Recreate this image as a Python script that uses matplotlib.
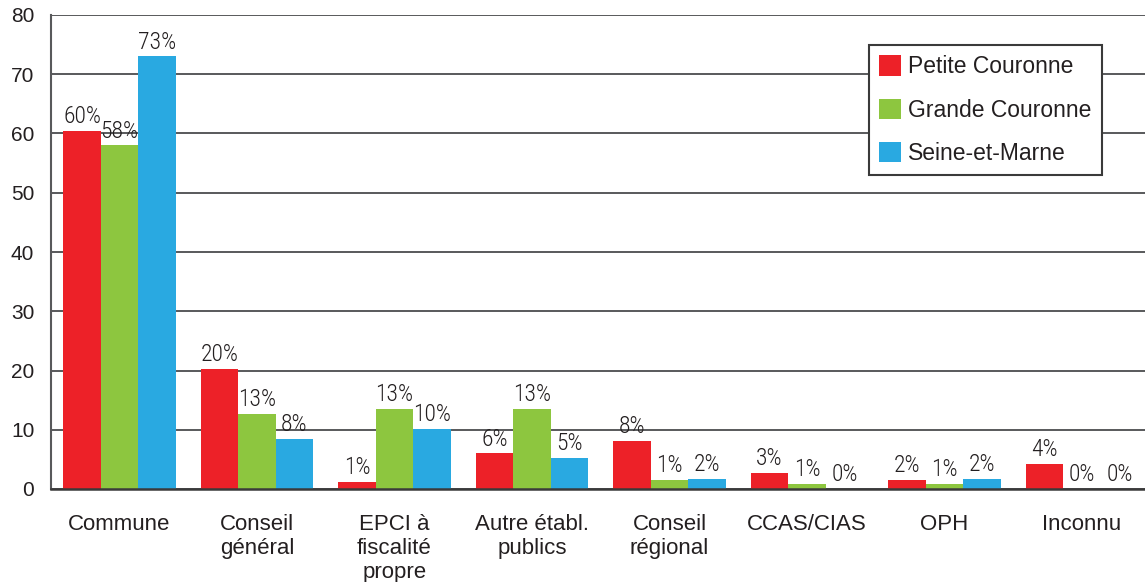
import matplotlib
matplotlib.use("Agg")
import matplotlib.pyplot as plt
import numpy as np
from matplotlib import font_manager

categories = ["Commune", "Conseil\ngénéral", "EPCI à\nfiscalité\npropre",
              "Autre établ.\npublics", "Conseil\nrégional", "CCAS/CIAS", "OPH", "Inconnu"]
series_names = ["Petite Couronne", "Grande Couronne", "Seine-et-Marne"]
petite = [60.5, 20.3, 1.2, 6.0, 8.1, 2.7, 1.5, 4.3]
grande = [58.0, 12.7, 13.5, 13.5, 1.5, 0.9, 0.9, 0.0]
seine = [73.0, 8.5, 10.2, 5.2, 1.7, 0.0, 1.7, 0.0]
petite_labels = ["60%", "20%", "1%", "6%", "8%", "3%", "2%", "4%"]
grande_labels = ["58%", "13%", "13%", "13%", "1%", "1%", "1%", "0%"]
seine_labels = ["73%", "8%", "10%", "5%", "2%", "0%", "2%", "0%"]
y_ticks = [0, 10, 20, 30, 40, 50, 60, 70, 80]

colors = ["#ED2128", "#8DC63F", "#29A9E1"]
text_color = "#231F20"

installed = {f.name for f in font_manager.fontManager.ttflist}
narrow = next((n for n in ["Roboto Condensed", "Archivo Narrow", "PT Sans Narrow"]
               if n in installed), "Liberation Sans")

plt.rcParams["font.family"] = ["Liberation Sans", "DejaVu Sans"]

fig = plt.figure(figsize=(11.45, 5.82), dpi=100)
ax = fig.add_axes([51 / 1145, 1 - 489 / 582, 1 - 51 / 1145, (489 - 15) / 582])

x = np.arange(len(categories))
w = 0.272
series = [petite, grande, seine]
labels = [petite_labels, grande_labels, seine_labels]
for k, (vals, labs) in enumerate(zip(series, labels)):
    bars = ax.bar(x + (k - 1) * w, vals, width=w, color=colors[k],
                  label=series_names[k], zorder=3)
    ax.bar_label(bars, labels=labs, padding=2, fontsize=17, fontweight="light",
                 family=[narrow, "DejaVu Sans"], color=text_color)

ax.set_xlim(-0.498, 7.458)
ax.set_ylim(0, 80)
ax.set_yticks(y_ticks)
ax.set_xticks(x)
ax.set_xticklabels(categories, fontsize=16, linespacing=1.2, va="top")
ax.tick_params(axis="y", labelsize=15, length=0, pad=12, labelcolor=text_color)
ax.tick_params(axis="x", length=0, pad=18, labelcolor=text_color)
ax.grid(axis="y", color="#58595B", linewidth=1.4, zorder=0)

for s in ["top", "right"]:
    ax.spines[s].set_visible(False)
ax.spines["left"].set_color("#58595B")
ax.spines["left"].set_linewidth(1.5)
ax.spines["bottom"].set_color("#3A3A3A")
ax.spines["bottom"].set_linewidth(1.8)
ax.spines["bottom"].set_zorder(4)

leg = ax.legend(loc="upper left", bbox_to_anchor=(818 / 1094, 1 - 30 / 474),
                fontsize=16.5, frameon=True, fancybox=False, handlelength=0.95,
                handleheight=1.0, handletextpad=0.3, labelspacing=0.88,
                borderpad=0.45, borderaxespad=0)
leg.get_frame().set_edgecolor("#3A3A3A")
leg.get_frame().set_linewidth(1.5)
leg.get_frame().set_facecolor("white")
leg.get_frame().set_alpha(1)
leg.set_zorder(5)
for t in leg.get_texts():
    t.set_color(text_color)

fig.savefig("out.png", dpi=100)
